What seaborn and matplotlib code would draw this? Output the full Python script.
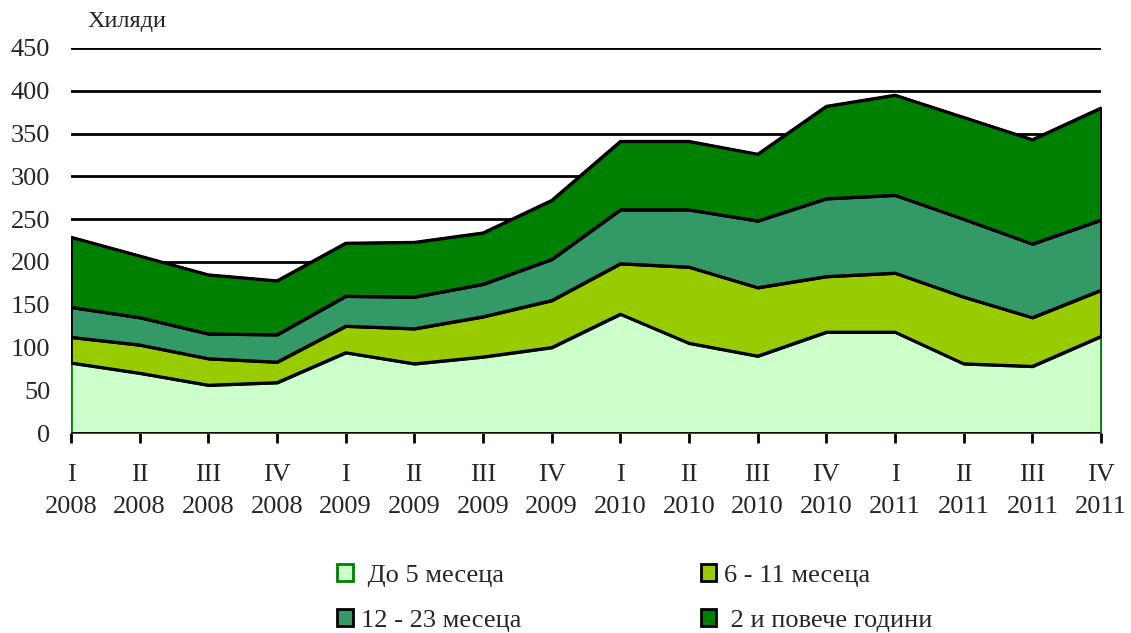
import numpy as np
import pandas as pd
import seaborn as sns
import matplotlib.pyplot as plt

# quarters and years on the x axis
quarters = ["I", "II", "III", "IV"] * 4
years = ["2008"] * 4 + ["2009"] * 4 + ["2010"] * 4 + ["2011"] * 4

# thousands of people, by duration of unemployment
up_to_5 = [82, 70, 56, 59, 94, 81, 89, 100, 139, 105, 90, 118, 118, 81, 78, 113]
m6_11 = [30, 33, 31, 24, 31, 41, 47, 55, 59, 89, 80, 65, 69, 78, 57, 54]
m12_23 = [35, 32, 29, 32, 35, 37, 38, 48, 63, 67, 78, 91, 91, 91, 86, 82]
y2_plus = [82, 72, 69, 63, 62, 64, 60, 69, 80, 80, 78, 108, 117, 119, 122, 131]

labels = [" До 5 месеца", "6 - 11 месеца", "12 - 23 месеца", " 2 и повече години"]
colors = ["#CCFFCC", "#99CC00", "#339966", "#008000"]
edges = ["#008000", "black", "black", "black"]

df = pd.DataFrame({labels[0]: up_to_5, labels[1]: m6_11,
                   labels[2]: m12_23, labels[3]: y2_plus})

sns.set_style("white")
plt.rcParams["font.family"] = ["Liberation Serif", "DejaVu Serif"]

fig = plt.figure(figsize=(11.31, 6.33), dpi=100)
ax = fig.add_axes([71 / 1131, 1 - 433 / 633, 1030 / 1131, 385 / 633])

x = np.arange(len(df))
base = np.zeros(len(df))
for i, col in enumerate(df.columns):
    top = base + df[col].values
    ax.fill_between(x, base, top, facecolor=colors[i], edgecolor=edges[i],
                    linewidth=2, label=col, zorder=2 + i)
    base = top

# redraw the black outlines on top so they are not hidden
cum = df.cumsum(axis=1)
for col in df.columns:
    sns.lineplot(x=x, y=cum[col].values, color="black", linewidth=2, ax=ax,
                 zorder=10, legend=False)

ax.set_xlim(0, 15)
ax.set_ylim(0, 450)
ax.set_yticks(range(0, 451, 50))
for yv in range(50, 451, 50):
    ax.axhline(yv, color="black", linewidth=2, zorder=1)
ax.axhline(0, color="black", linewidth=2, zorder=12)

ax.set_xticks(x)
ax.set_xticklabels([q + "\n" + y for q, y in zip(quarters, years)], linespacing=1.6)
ax.tick_params(axis="x", length=7, width=2, color="black", pad=15, labelsize=19, bottom=True)
ax.tick_params(axis="y", length=0, pad=15, labelsize=19)

for s in ax.spines.values():
    s.set_visible(False)

fig.text(87 / 1131, 1 - 22 / 633, "Хиляди", fontsize=17.5, va="center", ha="left")

handles, lbls = ax.get_legend_handles_labels()
order = [0, 2, 1, 3]
leg = fig.legend([handles[k] for k in order], [lbls[k] for k in order],
                 loc="upper left", bbox_to_anchor=(337 / 1131, 1 - 564 / 633),
                 ncol=2, frameon=False, fontsize=19, handlelength=0.6, handleheight=0.6,
                 handletextpad=0.3, columnspacing=6.8, labelspacing=0.85,
                 borderaxespad=0, borderpad=0)

fig.savefig("out.png", dpi=100)
